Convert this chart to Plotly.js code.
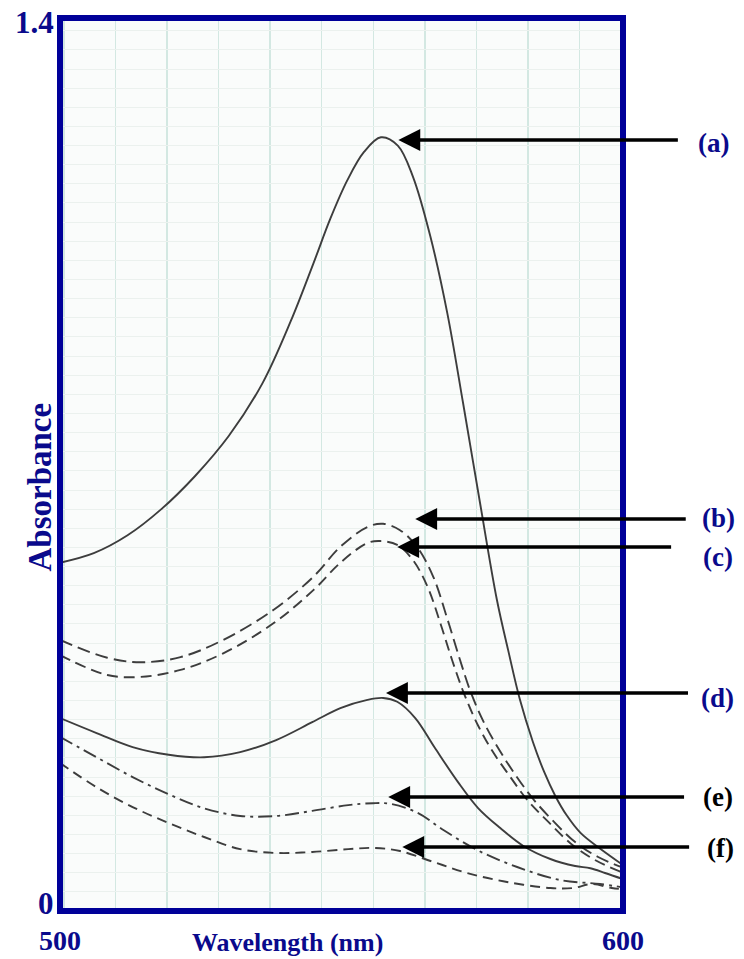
<!DOCTYPE html>
<html>
<head>
<meta charset="utf-8">
<script src="https://cdn.plot.ly/plotly-3.0.1.min.js"></script>
<style>
html,body{margin:0;padding:0;background:#ffffff;}
#chart{width:744px;height:959px;}
</style>
</head>
<body>
<div id="chart"></div>
<script>
// Wavelength (nm) and absorbance values
const wlA = [500, 506, 512, 518, 524, 530, 536, 541, 545, 548, 551, 554, 557, 560, 562.7, 565.8, 568.8, 571.6, 574.6, 577.6, 579.6, 581.7, 584, 586, 588, 590, 592.5, 595.9, 600];
const absA = [0.546, 0.561, 0.589, 0.630, 0.682, 0.745, 0.828, 0.925, 1.015, 1.085, 1.145, 1.190, 1.213, 1.200, 1.151, 1.057, 0.937, 0.796, 0.640, 0.488, 0.409, 0.331, 0.265, 0.218, 0.180, 0.150, 0.122, 0.098, 0.072];

const wlB = [500, 508.4, 514.3, 521.4, 529.0, 537.9, 545.0, 549.8, 554.6, 557.4, 560.4, 563.4, 566.3, 568.8, 571, 573, 575.5, 578.2, 581, 584, 587.5, 591.5, 595.5, 600];
const absB = [0.425, 0.397, 0.390, 0.398, 0.425, 0.472, 0.524, 0.571, 0.602, 0.607, 0.597, 0.571, 0.524, 0.458, 0.395, 0.342, 0.292, 0.250, 0.212, 0.176, 0.142, 0.108, 0.085, 0.068];

const wlC = [500, 508.4, 514.3, 521.4, 529.0, 537.9, 545.0, 549.8, 554.6, 556.9, 559.9, 562.7, 565.3, 567.6, 569.7, 571.8, 574.3, 577, 580, 583, 586.7, 590.7, 595, 600];
const absC = [0.401, 0.370, 0.367, 0.378, 0.404, 0.451, 0.503, 0.546, 0.577, 0.580, 0.574, 0.550, 0.508, 0.450, 0.392, 0.340, 0.290, 0.248, 0.210, 0.174, 0.140, 0.106, 0.080, 0.060];

const wlD = [500, 506.5, 512.9, 519.3, 525.6, 532.0, 538.4, 544.8, 549.8, 554.6, 557.4, 559.9, 563.1, 566.6, 570.7, 574.3, 578.2, 582.3, 587.1, 591.5, 594.2, 596.8, 600];
const absD = [0.3025, 0.279, 0.257, 0.245, 0.241, 0.249, 0.268, 0.296, 0.318, 0.331, 0.334, 0.328, 0.3025, 0.2555, 0.202, 0.161, 0.130, 0.102, 0.0815, 0.0705, 0.067, 0.0596, 0.050];

const wlE = [500, 506.5, 512.9, 519.3, 525.6, 532.0, 538.4, 544.8, 551.2, 555.6, 558.7, 563.5, 568.1, 574.1, 581.2, 588.8, 595.9, 600];
const absE = [0.273, 0.241, 0.210, 0.183, 0.161, 0.149, 0.149, 0.157, 0.166, 0.169, 0.168, 0.154, 0.127, 0.0956, 0.069, 0.0486, 0.0423, 0.037];

const wlF = [500, 506.5, 512.9, 519.3, 525.6, 532.0, 538.4, 544.8, 551.2, 556.0, 560.4, 566.3, 572.3, 579.4, 587.1, 591.1, 594.5, 598.0, 600];
const absF = [0.232, 0.194, 0.163, 0.138, 0.116, 0.097, 0.091, 0.0925, 0.097, 0.0988, 0.094, 0.077, 0.0596, 0.0455, 0.036, 0.036, 0.0423, 0.036, 0.034];

const seriesNames = ['(a)', '(b)', '(c)', '(d)', '(e)', '(f)'];
const xTickVals = [500, 600];
const xTickText = ['500', '600'];
const yTickVals = [0, 1.4];
const yTickText = ['0', '1.4'];

const lineCol = '#3d3d3d';
const navy = '#0a0a8c';
const serif = '"Liberation Serif", "Times New Roman", serif';
const bold = s => '<b>' + s + '</b>';

function tr(x, y, name, dash) {
  return {x: x, y: y, name: name, type: 'scatter', mode: 'lines',
          line: {color: lineCol, width: 1.9, dash: dash, shape: 'spline', smoothing: 1},
          hoverinfo: 'skip', showlegend: false};
}

const data = [
  tr(wlA, absA, seriesNames[0], 'solid'),
  tr(wlB, absB, seriesNames[1], '13px,6px'),
  tr(wlC, absC, seriesNames[2], '11px,6px'),
  tr(wlD, absD, seriesNames[3], 'solid'),
  tr(wlE, absE, seriesNames[4], '14px,5px,3px,5px'),
  tr(wlF, absF, seriesNames[5], '10px,6px')
];

function arrow(xTip, yTip, xTail) {
  return {x: xTip, y: yTip, xref: 'x', yref: 'y', ax: xTail, ay: yTip, axref: 'x', ayref: 'y',
          text: ' ', showarrow: true, arrowhead: 2, arrowsize: 1.25, arrowwidth: 3.5,
          arrowcolor: '#000000', standoff: 0, startstandoff: 0, font: {size: 2}};
}
function label(txt, px, py, col) {
  return {text: bold(txt), xref: 'paper', yref: 'paper', x: px, y: py,
          xanchor: 'center', yanchor: 'middle', showarrow: false,
          font: {family: serif, size: 27, color: col}};
}
// y-axis value labels placed beside the axis ends, as in the reference
function yLabel(i, yOffPx) {
  return {text: bold(yTickText[i]), xref: 'paper', yref: 'y', x: 0, y: yTickVals[i],
          xanchor: 'right', yanchor: 'middle', xshift: -4, yshift: yOffPx, showarrow: false,
          font: {family: serif, size: 31, color: navy}};
}

const layout = {
  width: 744, height: 959,
  margin: {l: 60, r: 121, t: 18, b: 48, pad: 0},
  paper_bgcolor: '#ffffff',
  plot_bgcolor: '#fafcfb',
  font: {family: serif, color: navy},
  xaxis: {
    range: [500, 600], tickvals: xTickVals, ticktext: xTickText.map(bold),
    showgrid: false, zeroline: false, showline: false,
    ticks: '', ticklabelstandoff: 10,
    tickfont: {family: serif, size: 28, color: navy},
    minor: {tick0: 509.85, dtick: 9.16, showgrid: true, gridcolor: '#d3e8e2', gridwidth: 1.5, ticks: ''}
  },
  yaxis: {
    range: [0, 1.4], tickvals: yTickVals, showticklabels: false,
    showgrid: false, zeroline: false, showline: false, ticks: '',
    minor: {tick0: 0, dtick: 0.03, showgrid: true, gridcolor: '#ebf1ee', gridwidth: 1, ticks: ''}
  },
  shapes: [
    {type: 'rect', xref: 'paper', yref: 'paper', x0: 0, x1: 1, y0: 0, y1: 1,
     line: {color: '#000099', width: 6}, layer: 'above'}
  ],
  annotations: [
    arrow(560.1, 1.2087, 610.1),
    arrow(563.1, 0.6145, 611.5),
    arrow(559.9, 0.5706, 608.9),
    arrow(557.9, 0.3417, 611.9),
    arrow(558.3, 0.1787, 611.2),
    arrow(560.8, 0.1003, 612.1),
    label(seriesNames[0], 1.1615, 0.860, navy),
    label(seriesNames[1], 1.170, 0.440, navy),
    label(seriesNames[2], 1.1686, 0.3964, navy),
    label(seriesNames[3], 1.1686, 0.2385, navy),
    label(seriesNames[4], 1.1686, 0.1277, '#000000'),
    label(seriesNames[5], 1.1739, 0.0705, '#000000'),
    yLabel(0, 8),
    yLabel(1, -4),
    {text: bold('Wavelength (nm)'), xref: 'paper', yref: 'paper', x: 0.404, y: -0.0358,
     xanchor: 'center', yanchor: 'middle', showarrow: false,
     font: {family: serif, size: 26, color: navy}},
    {text: bold('Absorbance'), xref: 'paper', yref: 'paper', x: -0.0364, y: 0.4748,
     xanchor: 'center', yanchor: 'middle', showarrow: false, textangle: -90,
     font: {family: serif, size: 33, color: navy}}
  ]
};

Plotly.newPlot('chart', data, layout, {staticPlot: true, displayModeBar: false});
</script>
</body>
</html>
